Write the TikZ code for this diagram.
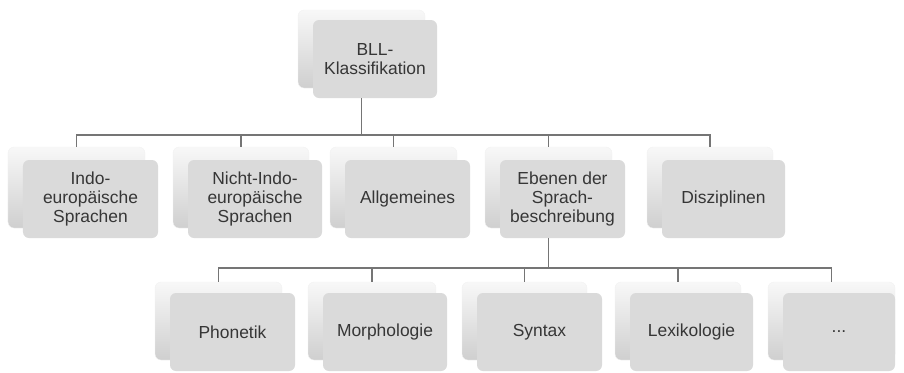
\documentclass[tikz,border=0pt]{standalone}
\usepackage{fontspec}
\setmainfont{Liberation Sans}
\definecolor{linegray}{HTML}{757575}
\definecolor{cardfront}{HTML}{DADADA}
\definecolor{cardtop}{HTML}{F8F8F8}
\definecolor{cardbottom}{HTML}{CFCFCF}
\definecolor{txt}{HTML}{363636}
\tikzset{
  backcard/.style={rounded corners=6bp, top color=cardtop, bottom color=cardbottom,
    draw=black!5, line width=0.4bp, inner sep=0pt},
  frontcard/.style={rounded corners=6bp, fill=cardfront, inner sep=0pt, align=center,
    text=txt, font=\fontsize{17.5}{19}\selectfont},
  conn/.style={draw=linegray, line width=1.5bp}
}
\begin{document}
\begin{tikzpicture}[x=1bp,y=-1bp]
\useasboundingbox (0,0) rectangle (904,372);
\coordinate (bus1) at (0,135);
\coordinate (bus2) at (0,268);
% top
\node[backcard, minimum width=127bp, minimum height=78bp] (rootb) at (361.5,49) {};
\node[frontcard, minimum width=124bp, minimum height=78bp] (root) at (375,59) {BLL-\\Klassifikation};
% level 1
\node[backcard, minimum width=137bp, minimum height=81bp] (ab) at (76.5,187.5) {};
\node[frontcard, minimum width=135bp, minimum height=78bp] (a) at (90.5,199) {Indo-\\europäische\\Sprachen};
\node[backcard, minimum width=136bp, minimum height=81bp] (bb) at (241,187.5) {};
\node[frontcard, minimum width=134bp, minimum height=78bp] (b) at (255,199) {Nicht-Indo-\\europäische\\Sprachen};
\node[backcard, minimum width=127bp, minimum height=81bp] (cb) at (393.5,187.5) {};
\node[frontcard, minimum width=125bp, minimum height=78bp] (c) at (407.5,199) {Allgemeines};
\node[backcard, minimum width=127bp, minimum height=81bp] (db) at (548.5,187.5) {};
\node[frontcard, minimum width=125bp, minimum height=78bp] (d) at (562.5,199) {Ebenen der\\Sprach-\\beschreibung};
\node[backcard, minimum width=126bp, minimum height=81bp] (eb) at (710,187.5) {};
\node[frontcard, minimum width=123bp, minimum height=78bp] (e) at (723.5,199) {Disziplinen};
% level 2
\node[backcard, minimum width=127bp, minimum height=78bp] (pb) at (218.5,321) {};
\node[frontcard, minimum width=125bp, minimum height=78bp] (p) at (232.5,332) {Phonetik};
\node[backcard, minimum width=128bp, minimum height=78bp] (mb) at (372,321) {};
\node[frontcard, minimum width=124bp, minimum height=78bp] (m) at (385,332) {Morphologie};
\node[backcard, minimum width=125bp, minimum height=78bp] (sb) at (524.5,321) {};
\node[frontcard, minimum width=125bp, minimum height=78bp] (s) at (539.5,332) {Syntax};
\node[backcard, minimum width=126bp, minimum height=78bp] (lb) at (678,321) {};
\node[frontcard, minimum width=123bp, minimum height=78bp] (l) at (691.5,332) {Lexikologie};
\node[backcard, minimum width=127bp, minimum height=78bp] (xb) at (831.5,321) {};
\node[frontcard, minimum width=112bp, minimum height=78bp] (x) at (839,332) {...};
% connectors level 1
\draw[conn] (rootb |- root.south) -- (rootb |- bus1);
\draw[conn] (ab.north) -- (ab |- bus1) -- (eb |- bus1) -- (eb.north);
\draw[conn] (bb |- bus1) -- (bb.north);
\draw[conn] (cb |- bus1) -- (cb.north);
\draw[conn] (db |- bus1) -- (db.north);
% connectors level 2
\draw[conn] (db |- d.south) -- (db |- bus2);
\draw[conn] (pb.north) -- (pb |- bus2) -- (xb |- bus2) -- (xb.north);
\draw[conn] (mb |- bus2) -- (mb.north);
\draw[conn] (sb |- bus2) -- (sb.north);
\draw[conn] (lb |- bus2) -- (lb.north);
\end{tikzpicture}
\end{document}
